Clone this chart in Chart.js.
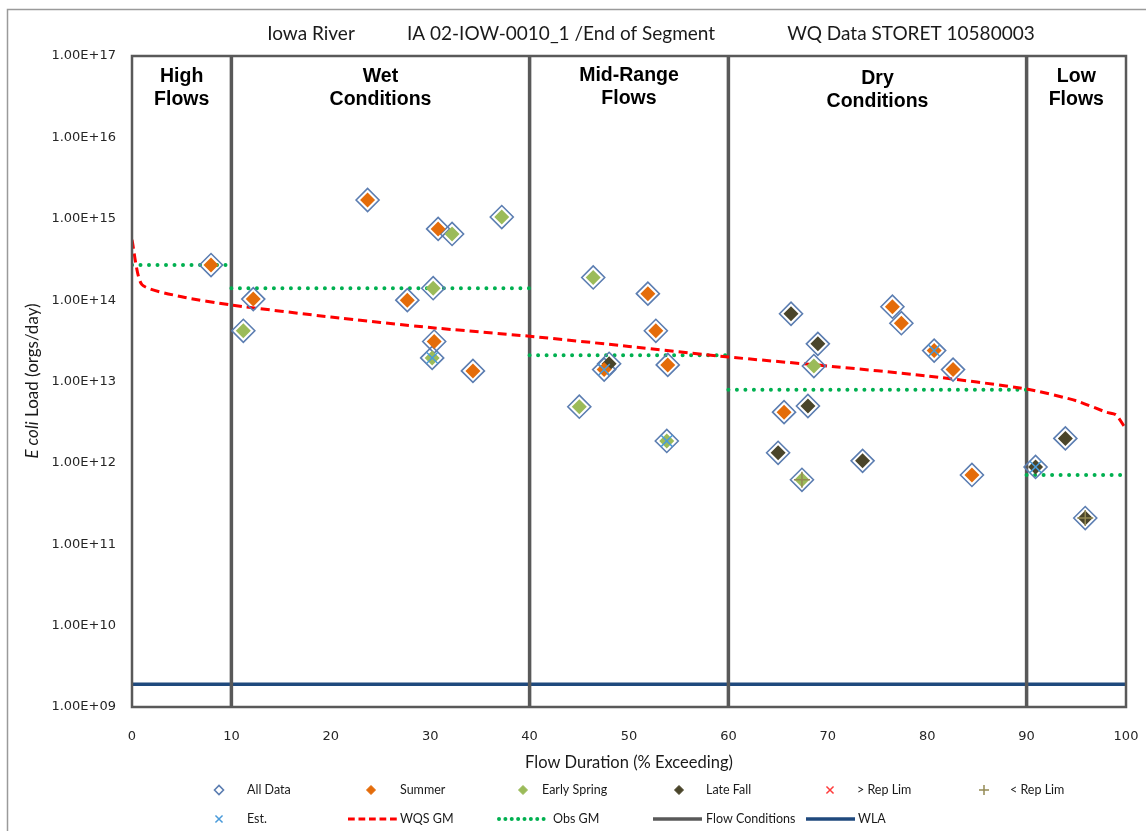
<!DOCTYPE html>
<html>
<head>
<meta charset="utf-8">
<script src="https://cdn.jsdelivr.net/npm/chart.js@4/dist/chart.umd.min.js"></script>
<style>
  html, body { margin: 0; padding: 0; background: #fff; }
  #wrap { width: 1146px; height: 831px; }
  canvas { display: block; }
</style>
</head>
<body>
<div id="wrap"><canvas id="c" width="1146" height="831"></canvas></div>
<script>
// ---- Sample loads (flow duration %, E. coli orgs/day) ----
const summerX = [7.95, 12.2, 23.7, 27.7, 30.4, 30.8, 34.3, 51.9, 52.7, 47.5, 53.9, 65.6, 76.5, 77.4, 80.7, 82.6, 84.5];
const summerY = [2.7e14, 1.03e14, 1.7e15, 1.0e14, 3.1e13, 7.5e14, 1.35e13, 1.2e14, 4.2e13, 1.4e13, 1.6e13, 4.2e12, 8.3e13, 5.2e13, 2.4e13, 1.4e13, 7.1e11];
const springX = [11.2, 30.3, 30.2, 32.2, 37.2, 46.4, 45.0, 53.8, 68.6, 67.4];
const springY = [4.2e13, 1.4e14, 1.95e13, 6.5e14, 1.05e15, 1.9e14, 4.9e12, 1.86e12, 1.55e13, 6.2e11];
const fallX = [48.0, 66.3, 69.0, 68.0, 65.0, 73.5, 90.9, 93.9, 95.9];
const fallY = [1.65e13, 6.8e13, 2.9e13, 5.0e12, 1.33e12, 1.06e12, 8.9e11, 2.0e12, 2.1e11];

// flagged samples
const estX = [30.2, 47.5, 53.8, 80.7, 90.9];
const estY = [1.95e13, 1.4e13, 1.86e12, 2.4e13, 8.9e11];
const aboveRepX = [];
const aboveRepY = [];
const belowRepX = [67.4, 95.9];
const belowRepY = [6.2e11, 2.1e11];

// WQS geometric-mean load curve
const wqsX = [0, 1, 5, 10, 20, 30, 40, 50, 60, 70, 80, 90, 95, 98, 99, 100];
const wqsY = [5.5e14, 1.55e14, 1.1e14, 8.7e13, 6.2e13, 4.6e13, 3.6e13, 2.7e13, 2.0e13, 1.55e13, 1.17e13, 8.1e12, 5.8e12, 4.2e12, 3.9e12, 2.6e12];

// observed geometric mean per flow condition
const flowBreaks = [0, 10, 40, 60, 90, 100];
const flowNames = [['High', 'Flows'], ['Wet', 'Conditions'], ['Mid-Range', 'Flows'], ['Dry', 'Conditions'], ['Low', 'Flows']];
const obsGM = [2.7e14, 1.4e14, 2.1e13, 7.9e12, 7.1e11];

// wasteload allocation
const wlaValue = 1.9e9;

// axis ticks
const xTickValues = [0, 10, 20, 30, 40, 50, 60, 70, 80, 90, 100];
const yTickValues = [1e9, 1e10, 1e11, 1e12, 1e13, 1e14, 1e15, 1e16, 1e17];
const Y_MIN = 1e9, Y_MAX = 1e17;

const pts = (xs, ys) => xs.map((x, i) => ({ x: x, y: ys[i] }));

const summerPts = pts(summerX, summerY);
const springPts = pts(springX, springY);
const fallPts = pts(fallX, fallY);
const allPts = summerPts.concat(springPts, fallPts);

const obsPts = [];
obsGM.forEach((v, i) => {
  if (i > 0) obsPts.push({ x: flowBreaks[i], y: null });
  obsPts.push({ x: flowBreaks[i], y: v }, { x: flowBreaks[i + 1], y: v });
});
const flowPts = [];
flowBreaks.slice(1, -1).forEach((b, i) => {
  if (i > 0) flowPts.push({ x: b, y: null });
  flowPts.push({ x: b, y: Y_MIN }, { x: b, y: Y_MAX });
});

const C_SUMMER = '#E46C0A', C_SPRING = '#9BBB59', C_FALL = '#4A452A';
const C_ALL = '#5B7DB1', C_EST = '#4A9BDA', C_HI = '#FF3B3B', C_LO = '#948A54';
const C_FLOW = '#595959', C_WLA = '#1F497D';

const datasets = [
  { label: 'Est.', type: 'scatter', data: pts(estX, estY), pointStyle: 'crossRot', pointRadius: 8, borderColor: C_EST, backgroundColor: C_EST, pointBorderWidth: 1.5, order: 0 },
  { label: '> Rep Lim', type: 'scatter', data: pts(aboveRepX, aboveRepY), pointStyle: 'crossRot', pointRadius: 8, borderColor: C_HI, backgroundColor: C_HI, pointBorderWidth: 1.5, order: 0 },
  { label: '< Rep Lim', type: 'scatter', data: pts(belowRepX, belowRepY), pointStyle: 'cross', pointRadius: 8, borderColor: C_LO, backgroundColor: C_LO, pointBorderWidth: 1.5, order: 0 },
  { label: 'Summer', type: 'scatter', data: summerPts, pointStyle: 'rectRot', pointRadius: 7.5, backgroundColor: C_SUMMER, borderColor: C_SUMMER, pointBorderWidth: 0, order: 1 },
  { label: 'Early Spring', type: 'scatter', data: springPts, pointStyle: 'rectRot', pointRadius: 7.5, backgroundColor: C_SPRING, borderColor: C_SPRING, pointBorderWidth: 0, order: 1 },
  { label: 'Late Fall', type: 'scatter', data: fallPts, pointStyle: 'rectRot', pointRadius: 7.5, backgroundColor: C_FALL, borderColor: C_FALL, pointBorderWidth: 0, order: 1 },
  { label: 'All Data', type: 'scatter', data: allPts, pointStyle: 'rectRot', pointRadius: 11.5, backgroundColor: 'rgba(255,255,255,0)', borderColor: C_ALL, pointBorderWidth: 1.6, order: 2 },
  { label: 'WQS GM', type: 'line', data: pts(wqsX, wqsY), borderColor: '#FF0000', borderWidth: 3, borderDash: [9, 5], pointRadius: 0, tension: 0.2, fill: false, order: 3 },
  { label: 'Obs GM', type: 'line', data: obsPts, borderColor: '#00B050', borderWidth: 4, borderDash: [0, 8.5], borderCapStyle: 'round', pointRadius: 0, spanGaps: false, fill: false, order: 3 },
  { label: 'Flow Conditions', type: 'line', data: flowPts, borderColor: C_FLOW, borderWidth: 3.5, pointRadius: 0, spanGaps: false, fill: false, order: 4 },
  { label: 'WLA', type: 'line', data: [{ x: 0, y: wlaValue }, { x: 100, y: wlaValue }], borderColor: C_WLA, borderWidth: 3.5, pointRadius: 0, fill: false, order: 4 }
];

// legend slots: [dataset label, marker/line x, text x, row y]
const legendSlots = [
  ['All Data', 219, 247, 790], ['Summer', 371, 400, 790], ['Early Spring', 523, 542, 790],
  ['Late Fall', 679, 706, 790], ['> Rep Lim', 830, 857, 790], ['< Rep Lim', 984, 1010, 790],
  ['Est.', 219, 247, 819], ['WQS GM', [348, 397], 400, 819], ['Obs GM', [499, 546], 553, 819],
  ['Flow Conditions', [653, 702], 706, 819], ['WLA', [806, 855], 858, 819]
];

const SANS = '"Lato", "Open Sans", sans-serif';

const decor = {
  id: 'decor',
  beforeDraw(chart) {
    const ctx = chart.ctx;
    ctx.save();
    ctx.fillStyle = '#fff';
    ctx.fillRect(0, 0, chart.width, chart.height);
    ctx.strokeStyle = '#9a9a9a';
    ctx.lineWidth = 1.5;
    ctx.strokeRect(7.5, 9.5, chart.width + 20, chart.height + 20);
    ctx.restore();
  },
  afterDatasetsDraw(chart) {
    const ctx = chart.ctx, a = chart.chartArea;
    ctx.save();
    ctx.strokeStyle = C_FLOW;
    ctx.lineWidth = 2.5;
    ctx.strokeRect(a.left, a.top, a.right - a.left, a.bottom - a.top);
    ctx.restore();
  },
  afterDraw(chart) {
    const ctx = chart.ctx, a = chart.chartArea, xs = chart.scales.x;
    ctx.save();
    // header line
    ctx.fillStyle = '#1a1a1a';
    ctx.font = '19px ' + SANS;
    ctx.textAlign = 'center';
    ctx.textBaseline = 'middle';
    ctx.fillText('Iowa River', 311, 34);
    ctx.fillText('IA 02-IOW-0010_1 /End of Segment', 561, 34);
    ctx.fillText('WQ Data STORET 10580003', 911, 34);

    // flow condition names
    ctx.font = 'bold 19.5px "Liberation Sans", Arial, sans-serif';
    ctx.fillStyle = '#000';
    const tops = [77, 77, 76, 79, 77];
    flowNames.forEach((lines, i) => {
      const cx = xs.getPixelForValue((flowBreaks[i] + flowBreaks[i + 1]) / 2);
      lines.forEach((t, j) => ctx.fillText(t, cx, tops[i] + j * 23));
    });

    // axis titles
    ctx.font = '16.5px ' + SANS;
    ctx.fillStyle = '#1a1a1a';
    ctx.fillText('Flow Duration (% Exceeding)', (a.left + a.right) / 2, 763);

    ctx.translate(33, 381);
    ctx.rotate(-Math.PI / 2);
    const parts = [['E coli', 'italic 17px ' + SANS], [' Load (orgs/day)', '17px ' + SANS]];
    let total = 0;
    parts.forEach(p => { ctx.font = p[1]; total += ctx.measureText(p[0]).width; });
    let px = -total / 2;
    ctx.textAlign = 'left';
    parts.forEach(p => { ctx.font = p[1]; ctx.fillText(p[0], px, 0); px += ctx.measureText(p[0]).width; });
    ctx.setTransform(1, 0, 0, 1, 0, 0);

    // legend
    ctx.font = '12.5px ' + SANS;
    ctx.textBaseline = 'middle';
    legendSlots.forEach(([label, mx, tx, y]) => {
      const ds = chart.data.datasets.find(d => d.label === label);
      if (Array.isArray(mx)) {
        ctx.save();
        ctx.strokeStyle = ds.borderColor;
        ctx.lineWidth = ds.borderWidth;
        ctx.setLineDash(ds.borderDash ? ds.borderDash.map(v => v * 0.75) : []);
        ctx.lineCap = ds.borderCapStyle || 'butt';
        ctx.beginPath();
        ctx.moveTo(mx[0], y);
        ctx.lineTo(mx[1], y);
        ctx.stroke();
        ctx.restore();
      } else {
        ctx.save();
        ctx.strokeStyle = ds.borderColor;
        ctx.fillStyle = ds.backgroundColor;
        ctx.lineWidth = ds.pointBorderWidth || 1;
        const r = ds.pointStyle === 'rectRot' ? 4.5 : 5;
        Chart.helpers.drawPoint(ctx, { pointStyle: ds.pointStyle, radius: r, borderWidth: ctx.lineWidth, rotation: 0 }, mx, y);
        ctx.restore();
      }
      ctx.fillStyle = '#1a1a1a';
      ctx.textAlign = 'left';
      ctx.fillText(label, tx, y);
    });
    ctx.restore();
  }
};

new Chart(document.getElementById('c'), {
  type: 'scatter',
  data: { datasets: datasets },
  options: {
    responsive: false,
    animation: false,
    layout: { padding: { left: 0, top: 56, right: 20, bottom: 84 } },
    plugins: { legend: { display: false }, title: { display: false }, tooltip: { enabled: false } },
    scales: {
      x: {
        type: 'linear', min: 0, max: 100,
        grid: { display: false, drawTicks: false },
        border: { display: false },
        afterBuildTicks: s => { s.ticks = xTickValues.map(v => ({ value: v })); },
        afterFit: s => { s.height = 40; s.paddingLeft = 0; s.paddingRight = 0; },
        ticks: { padding: 22, maxRotation: 0, color: '#262626', font: { family: '"DejaVu Sans", Verdana, sans-serif', size: 13 } }
      },
      y: {
        type: 'logarithmic', min: Y_MIN, max: Y_MAX,
        grid: { display: false, drawTicks: false },
        border: { display: false },
        afterBuildTicks: s => { s.ticks = yTickValues.map(v => ({ value: v })); },
        afterFit: s => { s.width = 132; s.paddingTop = 0; s.paddingBottom = 0; },
        ticks: {
          padding: 16, color: '#262626',
          font: { family: '"DejaVu Sans", Verdana, sans-serif', size: 13 },
          callback: v => '1.00E+' + String(Math.round(Math.log10(v))).padStart(2, '0')
        }
      }
    }
  },
  plugins: [decor]
});
</script>
</body>
</html>
